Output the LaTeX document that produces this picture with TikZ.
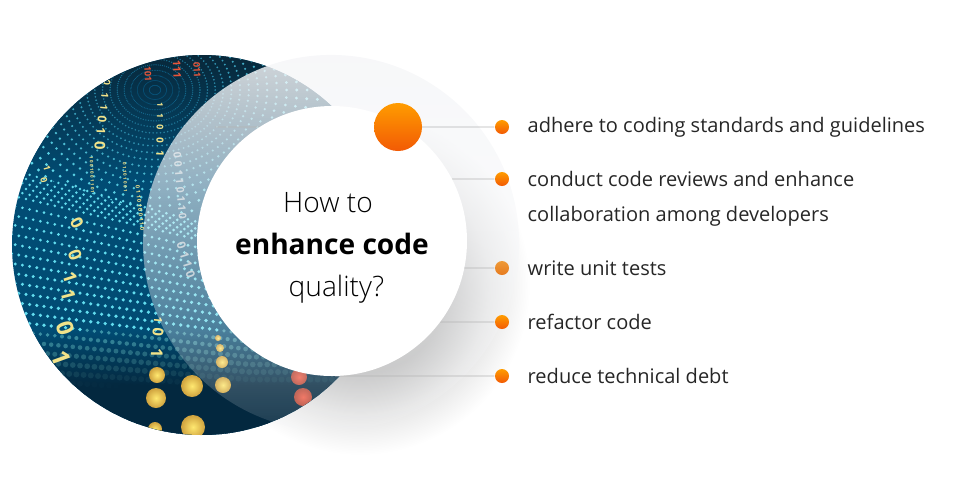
\documentclass[tikz,border=0pt]{standalone}
\usepackage{fontspec}
\setmainfont{Open Sans}
\newfontfamily\lightfont{Open Sans Light}
\usetikzlibrary{fadings}
\definecolor{phototop}{HTML}{08283A}
\definecolor{photomid}{HTML}{014C74}
\definecolor{photolow}{HTML}{03283F}
\definecolor{dotcyan}{HTML}{62DCEE}
\definecolor{veilgray}{HTML}{F5F6F8}
\definecolor{linegray}{HTML}{B4B4B4}
\definecolor{ballhigh}{HTML}{FF9C00}
\definecolor{balllow}{HTML}{F25A05}
\definecolor{softhigh}{HTML}{EE9A38}
\definecolor{softlow}{HTML}{E67A1E}
\definecolor{digityellow}{HTML}{F2E38A}
\definecolor{digitpale}{HTML}{A9BCC6}
\definecolor{digitred}{HTML}{E8563A}
\definecolor{bokehyellow}{HTML}{FFE870}
\definecolor{bokehamber}{HTML}{CFA23E}
\definecolor{bokehred}{HTML}{F0604A}
\pgfdeclareradialshading{hubshadow}{\pgfpoint{0bp}{0bp}}{color(0bp)=(black!25); color(13bp)=(black!25); color(19bp)=(black!10); color(25bp)=(white); color(50bp)=(white)}
\tikzfading[name=veilfade, top color=transparent!15, bottom color=transparent!90]
\tikzset{
  hubcircle/.style={circle,fill=white,minimum size=2.7cm,inner sep=0pt},
  hubtext/.style={anchor=base,inner sep=0pt,font=\fontsize{8}{10}\selectfont},
  orangeball/.style={circle,top color=ballhigh,bottom color=balllow,minimum size=0.48cm,inner sep=0pt},
  bullet/.style={circle,top color=ballhigh,bottom color=balllow,minimum size=0.14cm,inner sep=0pt},
  softbullet/.style={circle,top color=softhigh,bottom color=softlow,minimum size=0.14cm,inner sep=0pt},
  itemlabel/.style={anchor=base west,inner sep=0pt,align=left,font=\fontsize{5.7}{9.9}\selectfont,text=black!85},
  connector/.style={linegray,line width=0.25pt},
  digit/.style={inner sep=0pt,text=digityellow,font=\bfseries\fontsize{3}{3}\selectfont},
}
\begin{document}
\begin{tikzpicture}[scale=0.1]
\useasboundingbox (0,0) rectangle (96,-49);
\shade [shading=hubshadow] (36,-28.5) circle (17);
\begin{scope}
\clip (20.2,-24.5) circle (19);
\fill [photomid] (1,-5.5) rectangle (40,-43.5);
\shade [top color=phototop,bottom color=photomid] (1,-5.5) rectangle (40,-18);
\shade [top color=photomid,bottom color=photolow] (1,-33) rectangle (40,-38.5);
\fill [photolow] (1,-38.5) rectangle (40,-43.5);
\begin{scope}
\clip (0,-16.6) -- (3,-17.4) -- (13,-20.6) -- (22,-21.8) -- (40,-14) -- (40,0) -- (0,0) -- cycle;
\foreach \k in {1,...,26}{
  \pgfmathsetmacro{\ringr}{0.5*\k+0.012*\k*\k}
  \pgfmathsetmacro{\dotr}{0.035+0.0065*\k}
  \pgfmathsetmacro{\dotmix}{max(5,min(96,-12+\k*6))}
  \foreach \a in {0,4,...,356}{
    \fill [dotcyan!\dotmix!photomid] ({15.5+1.1*\ringr*cos(\a)},{-9.0+0.9*\ringr*sin(\a)}) circle (\dotr);
  }
}
\end{scope}
\foreach \k in {0,...,33}{
  \pgfmathsetmacro{\rowy}{\k<5 ? 17.5+0.5*\k : 20+0.95*(\k-5)}
  \pgfmathsetmacro{\rowslope}{0.28-0.009*\k}
  \foreach \j in {0,...,52}{
    \pgfmathsetmacro{\dotx}{0.8+\j*0.72+0.36*mod(\k,2)}
    \pgfmathsetmacro{\doty}{\rowy+\rowslope*min(\dotx-3,22)}
    \pgfmathsetmacro{\dotr}{\doty<33 ? 0.13+0.0035*(\doty-17) : min(0.3,0.18+0.03*(\doty-33))}
    \pgfmathsetmacro{\dotmix}{\doty<33 ? 100 : max(0,62-(\doty-33)*11)}
    \fill [dotcyan!\dotmix!photolow] (\dotx,-\doty) circle (\dotr);
  }
}
\foreach \dgx/\dgy/\dgt/\dgs/\dgr [count=\n] in {
  10.7/-8.3/0/2.8/-95,10.5/-9.6/1/2.8/-95,10.4/-10.8/1/2.8/-95,10.2/-11.9/0/3.4/-95,10.1/-13.1/1/3.4/-92,10/-14.6/0/4.2/-90,
  7.7/-22.3/0/4.8/-62,7.5/-25.5/0/5/-70,7/-27.7/1/5.2/-72,6.8/-29.5/1/5.4/-75,6.5/-32.8/0/6.6/-72,6.1/-35.8/1/7/-70,
  16/-10.5/1/2.2/-92,16/-11.6/1/2.4/-92,16/-12.7/0/2.6/-92,16/-14/0/2.8/-92,16/-15.4/1/3/-92,
  4.7/-16.8/1/2.6/-75,4.4/-18/0/2.6/-75,15.8/-32/1/3.2/-95,15.8/-33.2/0/4.2/-95,15.7/-35.3/1/4.6/-90}{
  \node [digit,rotate=\dgr,font=\bfseries\fontsize{\dgs}{\dgs}\selectfont] (bin\n) at (\dgx,\dgy) {\dgt};
}
\node [digit,rotate=-88,font=\bfseries\fontsize{1.3}{2}\selectfont] (binfine1) at (9.2,-17.5) {1 0 0 1 0 0 1 1 0 1};
\node [digit,rotate=-88,font=\bfseries\fontsize{1.3}{2}\selectfont] (binfine2) at (12.5,-17.7) {0 1 1 0 1 0 0 1};
\node [digit,rotate=-84,font=\bfseries\fontsize{1.6}{2}\selectfont] (binfine3) at (14,-20.8) {0 1 1 0 1 0 0 1 1 0};
\node [digit,rotate=-85,font=\bfseries\fontsize{3}{4}\selectfont,text=digitpale] (binwhite1) at (18,-18.6) {0 0 1 1 0 1 1 0};
\node [digit,rotate=-72,font=\bfseries\fontsize{3.4}{4}\selectfont,text=digitpale] (binwhite2) at (18.6,-26) {0 1 1 0};
\node [digit,rotate=-88,text=digitred,font=\bfseries\fontsize{3}{3}\selectfont] (binred1) at (17.7,-6.9) {111};
\node [digit,rotate=-88,text=digitred,font=\bfseries\fontsize{2.6}{3}\selectfont] (binred2) at (14.8,-7.4) {101};
\node [digit,rotate=-88,text=digitred,font=\bfseries\fontsize{2.6}{3}\selectfont] (binred3) at (19.7,-7) {011};
\foreach \bx/\by/\br in {15.7/-37.5/0.8,15.6/-39.8/1.0,19.2/-38.6/1.1,19.3/-42.7/1.2,15.5/-42.9/0.7,22.3/-38.5/0.8,22.2/-36.2/0.6,22/-34.8/0.4,21.8/-33.8/0.3}{
  \shade [inner color=bokehyellow,outer color=bokehamber] (\bx,\by) circle (\br);
}
\foreach \bx/\by/\br in {29.9/-37.7/0.8,30.3/-39.7/0.9}{
  \shade [inner color=bokehred,outer color=bokehred!75!black] (\bx,\by) circle (\br);
}
\end{scope}
\fill [veilgray,path fading=veilfade] (33.1,-24.3) circle (18.8);
\coordinate (tail1) at (21.5,-12.7);
\coordinate (tail2) at (45.2,-17.9);
\coordinate (tail3) at (46.4,-26.8);
\coordinate (tail4) at (44.0,-32.2);
\coordinate (tail5) at (33.5,-37.6);
\node [bullet] (dot1) at (50.2,-12.7) {};
\node [bullet] (dot2) at (50.2,-17.9) {};
\node [softbullet] (dot3) at (50.2,-26.8) {};
\node [bullet] (dot4) at (50.2,-32.2) {};
\node [bullet] (dot5) at (50.2,-37.6) {};
\draw [connector] (tail1) -- (dot1);
\draw [connector] (tail2) -- (dot2);
\draw [connector] (tail3) -- (dot3);
\draw [connector] (tail4) -- (dot4);
\draw [connector] (tail5) -- (dot5);
\node [hubcircle] (hub) at (33.2,-24.1) {};
\node [hubtext] (howto) at (32.8,-21.2) {\lightfont How to};
\node [hubtext] (enhance) at (33.2,-25.4) {\bfseries enhance code};
\node [hubtext] (quality) at (33.65,-29.6) {\lightfont quality?};
\node [orangeball] (ball) at (39.8,-12.7) {};
\node [itemlabel] (item1) at (52.7,-13.2) {adhere to coding standards and guidelines};
\node [itemlabel] (item2) at (52.7,-22.1) {conduct code reviews and enhance\\collaboration among developers};
\node [itemlabel] (item3) at (52.7,-27.5) {write unit tests};
\node [itemlabel] (item4) at (52.7,-32.9) {refactor code};
\node [itemlabel] (item5) at (52.7,-38.3) {reduce technical debt};
\end{tikzpicture}
\end{document}
